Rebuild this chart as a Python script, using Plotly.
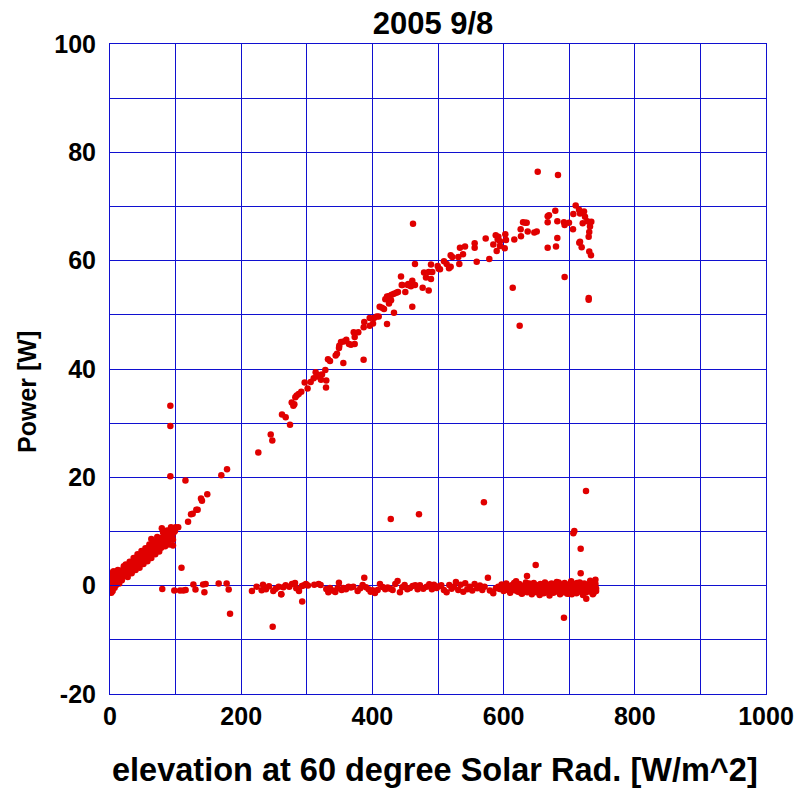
import plotly.graph_objects as go

# ---------------- data, (x, y) pairs ----------------
# rising branch, low range 0-110
rise_low = [(0, -1.2), (0, -0.6), (0, 0.0), (0, 0.5), (0, 1.0), (0, 1.6), (1, -0.9), (1, 0.3), (1, 1.2), (2, 0.2),
            (2, 0.8), (3, -0.3), (3, 1.4), (4, 0.5), (5, 0.9), (5, 1.8), (6, 0.2), (7, 1.1), (8, 0.6), (8, 1.7),
            (9, 1.3), (10, 0.8), (10, 2.0), (11, 1.5), (12, 1.0), (13, 2.2), (14, 1.6), (15, 1.2), (15, 2.5),
            (16, 2.0), (17, 1.4), (18, 2.6), (19, 2.1), (20, 1.7), (20, 3.0), (22, 2.4), (23, 3.1), (24, 2.0),
            (25, 2.8), (26, 3.4), (27, 2.5), (28, 3.0), (29, 3.8), (30, 2.7), (31, 3.5), (32, 4.1), (33, 3.2),
            (34, 3.8), (35, 4.4), (36, 3.4), (37, 4.0), (38, 4.8), (39, 3.7), (40, 4.3), (41, 5.1), (42, 4.0),
            (43, 4.6), (44, 5.4), (45, 4.2), (46, 5.0), (47, 5.7), (48, 4.6), (49, 5.3), (50, 6.0), (51, 4.9),
            (52, 5.6), (53, 6.3), (54, 5.2), (55, 6.0), (56, 6.6), (57, 5.4), (58, 6.3), (59, 7.0), (60, 5.6),
            (61, 6.5), (62, 7.3), (63, 8.6), (64, 6.0), (65, 6.8), (66, 7.6), (67, 6.2), (68, 7.1), (69, 7.9),
            (70, 6.5), (71, 7.4), (72, 8.2), (73, 6.6), (74, 7.7), (75, 8.5), (76, 7.0), (77, 8.0), (78, 8.8),
            (79, 10.6), (80, 7.4), (81, 8.3), (82, 9.1), (83, 7.8), (84, 8.6), (85, 9.4), (86, 8.0), (87, 8.9),
            (88, 9.7), (89, 8.4), (90, 9.2), (91, 10.0), (92, 8.7), (93, 9.5), (94, 10.3), (95, 9.0), (96, 7.4),
            (97, 9.8), (98, 10.6), (99, 10.1), (100, 10.8), (104, 10.8), (109, 3.3),
            (3, 2.3), (6, 2.6), (9, 0.1), (12, 2.9), (14, 0.4), (18, 1.0), (21, 3.6), (24, 3.9), (27, 1.6),
            (30, 4.4), (33, 2.3), (36, 5.1), (39, 2.9), (42, 5.8), (45, 3.3), (48, 6.4), (51, 4.0), (54, 6.9),
            (57, 4.5), (60, 7.6), (63, 5.1), (66, 8.2), (69, 5.8), (72, 9.0), (75, 6.3), (78, 7.0), (81, 9.8),
            (84, 7.3), (87, 10.2), (90, 7.6), (93, 10.8), (96, 8.5), (4, -1.0), (7, -0.4), (2, -1.3), (5, 2.6)]

# rising branch, 90-230
rise_mid = [(92, 33.2), (92, 29.5), (92, 20.2), (115, 19.4), (119, 11.8), (123.5, 13.2), (126, 13.3),
            (131.6, 14.0), (133.6, 14.0), (138.7, 16.1), (140.2, 15.7), (148.3, 16.9), (169.7, 20.4),
            (178.4, 21.5)]

# rising branch, 220-740
rise_high = [(226.1, 24.6), (245, 27.9), (247.4, 26.8), (274.4, 29.7), (262.2, 31.6), (267.8, 31.1),
             (277, 33.8), (279.5, 33.2), (281, 33.5), (282.5, 34.8), (284.6, 35.1), (287.6, 35.4), (291.6, 35.8),
             (296.8, 37.5), (301.2, 36.4), (305.9, 37.6), (310.5, 38.3), (313.5, 39.4), (315.9, 38.6),
             (320.1, 38.9), (323.2, 39.0), (321.6, 38.0), (328.2, 39.8), (329.7, 37.9), (329.3, 36.6),
             (332.3, 41.8), (335.4, 41.5), (344, 42.5), (346, 42.8), (349.1, 43.9), (349.5, 44.3), (355.7, 41.1),
             (352.1, 45.0), (356.2, 45.1), (360.2, 45.4), (364.3, 44.6), (367.4, 44.5), (373, 44.6), (373, 45.9),
             (371.5, 46.8), (378.5, 46.8), (386.6, 41.7), (386.7, 47.7), (387.6, 48.7), (395.9, 48.0),
             (395.9, 49.4), (400.9, 48.4), (402.4, 49.4), (406.5, 49.7), (409.6, 49.7), (411.1, 51.5),
             (414.6, 51.3), (417.7, 51.1), (422.3, 48.3), (432.9, 50.4), (419.7, 52.9), (422.3, 53.4),
             (425.8, 53.5), (429.4, 53.7), (432.9, 53.9), (436.5, 54.1), (439, 54.2), (443.6, 57.1),
             (445.6, 55.5), (450.2, 54.2), (453.8, 55.5), (425.3, 52.1), (428.4, 52.7), (444.7, 55.5),
             (454.7, 55.7), (457.3, 55.4), (460.8, 56.3), (464.9, 55.5), (458.8, 55.3), (460.8, 51.5),
             (464.9, 59.4), (461.9, 66.8), (476.6, 55.0), (485.8, 54.5), (478.7, 57.8), (481.7, 56.9),
             (485.8, 57.9), (489.3, 56.6), (491.3, 57.9), (489.3, 59.3), (499.5, 59.0), (501, 58.5), (503, 58.4),
             (509.1, 59.9), (513.2, 59.4), (516.8, 58.6), (519.3, 58.9), (519.3, 61.0), (521.8, 60.7),
             (531, 60.7), (533.5, 62.4), (538.1, 61.2), (541.2, 62.6), (532.5, 59.4), (555.9, 63.2),
             (555.9, 62.4), (559, 59.8), (572.7, 64.1), (578.2, 60.3), (584.3, 63.0), (588, 64.7), (589.5, 61.8),
             (592, 64.4), (594.5, 63.6), (594.5, 62.7), (591, 63.9), (602.6, 64.9), (603.7, 63.8), (601.7, 62.3),
             (616.3, 63.9), (626, 65.8), (626.5, 64.5), (629.6, 67.1), (633.1, 67.0), (635.2, 67.0),
             (636.7, 65.4), (646.8, 65.2), (650.5, 65.4), (667.2, 68.2), (669.2, 68.4), (667.2, 67.1),
             (678.8, 69.2), (681.9, 67.3), (681.9, 64.2), (679.9, 62.6), (667.2, 62.4), (692, 67.1), (693, 66.6),
             (699.7, 67.0), (705.8, 65.8), (706.3, 68.6), (709.9, 70.2), (715, 69.4), (716.5, 68.7),
             (720.1, 68.9), (722.6, 69.1), (724.1, 68.1), (720.6, 66.9), (727.6, 67.3), (731.7, 67.1),
             (733.7, 67.2), (731.7, 66.3), (730.6, 65.3), (729.7, 64.4), (715.4, 63.3), (719, 62.5),
             (716.5, 63.5), (730.6, 61.7), (733.2, 61.0), (613.9, 55.0), (624.5, 48.0), (652, 76.4),
             (682.9, 75.8), (693, 57.0), (729.7, 53.1), (729.7, 52.8)]

# near-zero band 75-600
band = [(79.7, -0.6), (98, -0.9), (106.7, -0.9), (111.7, -0.9), (115.3, -0.8), (127.1, 0.2), (130.3, -0.7),
        (141.9, 0.2), (143.9, -1.2), (145.8, 0.3), (165.7, 0.4), (177.8, 0.4), (180.9, -0.7),
        (216.4, -0.98), (223.5, -0.18), (231.2, -0.85), (233.2, 0.19), (237.8, -0.67), (242.3, -0.11),
        (248.9, -0.98), (252.5, -0.55), (257.1, -0.18), (261.1, -1.59), (264.2, -0.30), (267.7, 0.07),
        (273.3, -0.18), (277.4, 0.32), (282.0, 0.50), (284.0, -0.48), (288.1, -0.98), (292.6, -0.05),
        (295.7, 0.07), (298.7, 0.32), (301.8, 0.01), (311.4, 0.19), (318.0, 0.32), (321.1, 0.13),
        (329.7, -0.61), (332.8, -1.22), (335.3, -0.42), (339.4, -0.91), (343.4, -1.16), (347.0, -0.48),
        (349.0, 0.56), (353.1, -0.79), (355.6, -0.42), (359.7, -0.67), (363.7, -0.18), (367.3, -0.36),
        (370.9, -0.18), (377.5, -0.98), (381.5, -0.48), (385.1, 0.13), (387.6, 1.48), (390.2, -0.30),
        (394.2, -0.67), (397.3, -1.10), (400.3, -0.85), (403.9, -1.34), (408.0, -0.79), (411.5, 0.32),
        (415.6, -0.24), (419.6, -0.67), (423.2, -0.36), (427.2, -0.55), (430.8, -0.79), (434.9, 0.32),
        (438.4, 0.87), (442.0, -1.22), (445.5, -0.30), (449.1, 0.13), (453.2, -0.67), (457.2, -0.42),
        (461.3, -0.05), (465.3, 0.07), (468.9, -0.67), (472.5, 0.07), (477.5, -0.55), (482.6, -0.18),
        (486.7, 0.25), (490.7, -0.67), (493.8, 0.19), (497.9, -0.42), (501.4, -0.11), (505.0, 0.07),
        (509.0, -0.79), (513.1, -1.22), (517.2, 0.13), (520.7, -0.55), (524.3, -0.18), (527.3, 0.69),
        (530.9, -0.79), (534.4, 0.19), (538.5, -1.10), (541.5, 0.44), (544.6, -0.67), (548.7, -0.18),
        (552.2, -0.91), (555.8, 0.32), (559.8, -0.48), (563.9, 0.01), (567.5, -0.79), (571.0, -0.18),
        (576.1, 1.48), (579.1, -0.91), (584.2, -1.41), (588.3, -0.48), (591.8, -0.18)]

# dense near-zero band 590-741
dense = [(594, -0.6), (597, 0.2), (600, -1.0), (602, -0.3), (604, 0.4), (606, -0.8), (608, -0.1), (610, -1.3),
         (612, 0.1), (614, -0.5), (616, 0.5), (618, -0.9), (620, -0.2), (622, -1.1), (624, 0.3), (626, -0.6),
         (628, -1.5), (630, 0.0), (632, -0.7), (634, 0.6), (636, -1.2), (638, -0.4), (640, 0.2), (641, -0.9),
         (643, -1.6), (645, -0.3), (646, 0.5), (648, -0.8), (650, -1.2), (651, 0.1), (653, -0.5), (655, -1.7),
         (656, 0.3), (658, -0.9), (660, -0.2), (661, -1.4), (663, 0.6), (665, -0.6), (666, -1.0), (668, 0.0),
         (670, -1.8), (671, -0.4), (673, 0.4), (675, -0.8), (676, -1.3), (678, -0.1), (680, -0.6), (681, 0.7),
         (683, -1.1), (685, -0.3), (686, -1.6), (688, 0.2), (690, -0.7), (691, -1.2), (693, 0.5), (695, -0.4),
         (696, -0.9), (698, 0.1), (700, -1.5), (701, -0.2), (703, 0.8), (705, -0.6), (706, -1.1), (708, 0.3),
         (710, -0.8), (711, -1.4), (713, 0.0), (715, -0.5), (716, 0.6), (718, -1.0), (720, -0.3), (721, -1.7),
         (723, 0.4), (725, -0.7), (726, -1.2), (728, 0.1), (730, -0.4), (731, -0.9), (733, 0.7), (735, -1.3),
         (736, -0.2), (738, -0.6), (740, 0.3), (741, -1.0), (652, -0.8), (657, -0.1), (662, -1.3), (667, 0.2),
         (672, -0.6), (677, -1.0), (682, 0.4), (687, -0.3), (692, -0.9), (697, -1.5), (702, 0.0), (707, -0.5),
         (712, 0.5), (717, -1.1), (722, -0.2), (727, -0.7), (732, 0.9), (737, -1.4), (739, -0.4), (734, 0.1),
         (729, -0.8), (724, -1.2), (719, 0.3), (714, -0.6), (709, -0.1), (704, -1.6), (699, 0.2), (694, -0.9),
         (689, -0.4), (684, 0.6), (679, -1.0), (674, -0.3), (669, -1.1), (664, 0.1), (659, -0.7), (654, -0.2),
         (644, -1.2), (639, 0.4), (631, -0.5), (627, -1.4), (619, 0.8), (609, -0.8), (738, -0.3), (740, 1.1),
         (736, -1.6), (739, 0.5), (741, -0.5), (737, -1.0)]

# scattered outliers
outliers = [(183, -5.2), (248, -7.6), (293, -2.9), (261, -1.6), (428, 12.3), (471, 13.2), (570, 15.4),
            (725.6, 17.5), (707.8, 10.1), (706.3, 9.7), (717.5, 6.8), (717.5, 2.3), (648.9, 3.8),
            (635.7, 1.8), (692, -5.9), (726, -2.4)]

x_tick_vals = [0, 200, 400, 600, 800, 1000]
x_tick_text = ["0", "200", "400", "600", "800", "1000"]
y_tick_vals = [-20, 0, 20, 40, 60, 80, 100]
y_tick_text = ["-20", "0", "20", "40", "60", "80", "100"]

title_text = "2005 9/8"
x_title = "elevation at 60 degree Solar Rad. [W/m^2]"
y_title = "Power [W]"

groups = [rise_low, rise_mid, rise_high, band, dense, outliers]
all_x = [p[0] for g in groups for p in g]
all_y = [p[1] for g in groups for p in g]

# ---------------- figure ----------------
fig = go.Figure()
fig.add_trace(go.Scatter(
    x=all_x, y=all_y, mode="markers",
    marker=dict(color="#e00000", size=6.5, line=dict(width=0)),
    showlegend=False,
))

grid_blue = "#1010d0"
font_fam = "Liberation Sans, Arial, sans-serif"

fig.update_layout(
    width=798, height=791,
    margin=dict(l=110, r=32, t=44, b=97, autoexpand=False),
    paper_bgcolor="white", plot_bgcolor="white",
    title=dict(text=title_text, x=433 / 798, xanchor="center", y=1 - 23 / 791, yanchor="middle",
               font=dict(family=font_fam, size=31, color="black", weight="bold")),
    font=dict(family=font_fam, color="black"),
    annotations=[
        dict(text=y_title, xref="paper", yref="paper", x=-83 / 656, y=(694 - 392) / 650,
             xanchor="center", yanchor="middle", textangle=-90, showarrow=False,
             font=dict(family=font_fam, size=25, color="black", weight="bold")),
        dict(text=x_title, xref="paper", yref="paper", x=(435 - 110) / 656, y=-(770 - 694) / 650,
             xanchor="center", yanchor="middle", showarrow=False,
             font=dict(family=font_fam, size=32.5, color="black", weight="bold")),
    ],
)

fig.update_xaxes(
    range=[0, 1000], tickmode="array", tickvals=x_tick_vals, ticktext=x_tick_text,
    automargin=False,
    showgrid=True, gridcolor=grid_blue, gridwidth=1,
    showline=True, linecolor=grid_blue, linewidth=1, mirror="ticks",
    ticks="inside", ticklen=10, tickcolor=grid_blue,
    minor=dict(dtick=100, tick0=0, showgrid=True, gridcolor=grid_blue, gridwidth=1, ticks="inside",
               ticklen=10, tickcolor=grid_blue),
    zeroline=False,
    tickfont=dict(family=font_fam, size=25, color="black", weight="bold"),
)
fig.update_yaxes(
    range=[-20, 100], tickmode="array", tickvals=y_tick_vals, ticktext=y_tick_text,
    automargin=False,
    showgrid=True, gridcolor=grid_blue, gridwidth=1,
    showline=True, linecolor=grid_blue, linewidth=1, mirror="ticks",
    ticks="inside", ticklen=10, tickcolor=grid_blue,
    minor=dict(dtick=10, tick0=0, showgrid=True, gridcolor=grid_blue, gridwidth=1, ticks="inside",
               ticklen=10, tickcolor=grid_blue),
    zeroline=False, ticklabelstandoff=8,
    tickfont=dict(family=font_fam, size=25, color="black", weight="bold"),
)

fig.write_html("out.html")
